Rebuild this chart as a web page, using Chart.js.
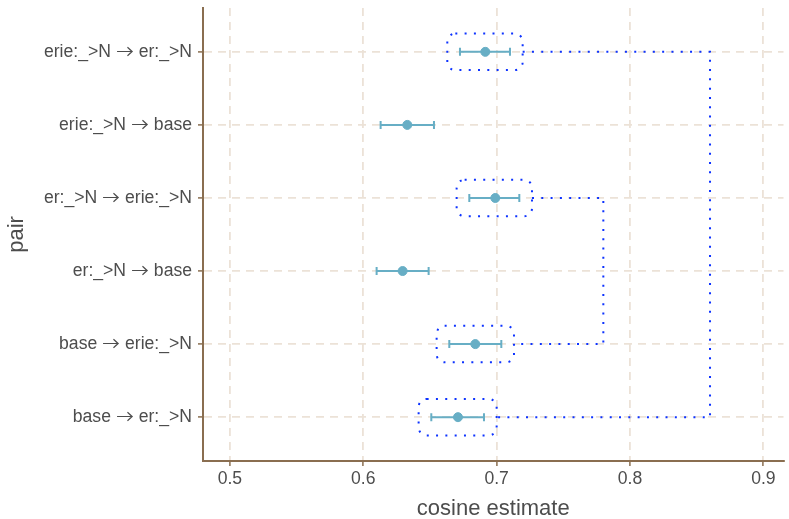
<!DOCTYPE html>
<html>
<head>
<meta charset="utf-8">
<script src="https://cdn.jsdelivr.net/npm/chart.js@4.4.1/dist/chart.umd.min.js"></script>
<style>
/* arrows taken from Lato, everything else from Liberation Sans */
@font-face {
    font-family: 'ArrowGlyphs';
    src: local('Lato'), local('Lato Regular'), local('Lato-Regular');
    unicode-range: U+2190-21FF;
}
html, body { margin: 0; padding: 0; background: #fff; }
#wrap { width: 789px; height: 519px; position: relative; }
</style>
</head>
<body>
<div id="wrap"><canvas id="myChart"></canvas></div>
<script>
// pairs, listed bottom to top
const pairs = ['base → er:_>N', 'base → erie:_>N', 'er:_>N → base', 'er:_>N → erie:_>N', 'erie:_>N → base', 'erie:_>N → er:_>N'];
const estimates = [0.671, 0.684, 0.6295, 0.699, 0.633, 0.6915];
const lower = [0.651, 0.6645, 0.610, 0.6795, 0.613, 0.6725];
const upper = [0.6905, 0.7035, 0.649, 0.717, 0.653, 0.710];
const xTicks = [0.5, 0.6, 0.7, 0.8, 0.9];

// rows wrapped in dotted boxes, and the rows joined by brackets
const boxedRows = [0, 1, 3, 5];
const bracketFrom = [5, 3];
const bracketTo = [0, 1];
const bracketX = [0.86, 0.78];

const pointColor = '#67aec5';
const axisColor = '#8a6e50';
const gridColor = '#ece2d7';
const textColor = '#4d4d4d';
const boxColor = '#0d33ff';
const boxPadX = 0.0095;
const boxPadY = 0.25;

Chart.defaults.font.family = 'ArrowGlyphs, "Liberation Sans", Arial, sans-serif';

const errorBars = {
    id: 'errorBars',
    beforeDatasetsDraw(chart){
        const {ctx, scales: {x, y}} = chart;
        ctx.save();
        ctx.strokeStyle = pointColor;
        ctx.lineWidth = 2;
        estimates.forEach((_, i) => {
            const py = y.getPixelForValue(i);
            const x0 = x.getPixelForValue(lower[i]);
            const x1 = x.getPixelForValue(upper[i]);
            ctx.beginPath();
            ctx.moveTo(x0, py); ctx.lineTo(x1, py);
            ctx.moveTo(x0, py - 4); ctx.lineTo(x0, py + 4);
            ctx.moveTo(x1, py - 4); ctx.lineTo(x1, py + 4);
            ctx.stroke();
        });
        ctx.restore();
    }
};

const groupMarks = {
    id: 'groupMarks',
    afterDatasetsDraw(chart){
        const {ctx, scales: {x, y}} = chart;
        ctx.save();
        ctx.strokeStyle = boxColor;
        ctx.lineWidth = 2;
        ctx.setLineDash([2, 7.3]);

        boxedRows.forEach(i => {
            const left = x.getPixelForValue(lower[i] - boxPadX);
            const right = x.getPixelForValue(upper[i] + boxPadX);
            const top = y.getPixelForValue(i + boxPadY);
            const bottom = y.getPixelForValue(i - boxPadY);
            ctx.beginPath();
            ctx.roundRect(left, top, right - left, bottom - top, 8);
            ctx.stroke();
        });

        bracketFrom.forEach((from, k) => {
            const to = bracketTo[k];
            const bx = x.getPixelForValue(bracketX[k]);
            ctx.beginPath();
            ctx.moveTo(x.getPixelForValue(upper[from] + boxPadX), y.getPixelForValue(from));
            ctx.lineTo(bx, y.getPixelForValue(from));
            ctx.lineTo(bx, y.getPixelForValue(to));
            ctx.lineTo(x.getPixelForValue(upper[to] + boxPadX), y.getPixelForValue(to));
            ctx.stroke();
        });
        ctx.restore();
    }
};

async function createChart(){
    try {
        await document.fonts.load('17.6px ArrowGlyphs', '→');
    } catch (e) {}

    const ctx = document.getElementById('myChart').getContext('2d');
    new Chart(ctx, {
        type: 'scatter',
        data: {
            datasets: [{
                data: estimates.map((v, i) => ({x: v, y: i})),
                backgroundColor: pointColor,
                borderColor: pointColor,
                pointRadius: 4.5,
                pointHoverRadius: 4.5
            }]
        },
        options: {
            responsive: true,
            maintainAspectRatio: false,
            devicePixelRatio: 1,
            animation: false,
            layout: { padding: { top: 8, right: 4, left: 0, bottom: 0 } },
            plugins: { legend: { display: false }, tooltip: { enabled: false } },
            scales: {
                x: {
                    type: 'linear',
                    min: 0.47981,
                    max: 0.9151,
                    afterBuildTicks: s => { s.ticks = xTicks.map(v => ({value: v})); },
                    afterFit: s => { s.height = 58; s.paddingLeft = 0; s.paddingRight = 0; },
                    ticks: {
                        color: textColor,
                        font: { size: 17.6 },
                        padding: 3,
                        maxRotation: 0,
                        callback: v => v.toFixed(1)
                    },
                    grid: {
                        color: gridColor,
                        lineWidth: 1.8,
                        tickColor: axisColor,
                        tickLength: 5,
                        tickWidth: 1.5
                    },
                    border: { color: axisColor, width: 2, dash: [8, 6] },
                    title: {
                        display: true,
                        text: 'cosine estimate',
                        color: textColor,
                        font: { size: 22, lineHeight: 0.9 },
                        padding: { top: 0, bottom: 0 }
                    }
                },
                y: {
                    type: 'linear',
                    min: -0.6,
                    max: 5.6,
                    afterBuildTicks: s => { s.ticks = pairs.map((_, i) => ({value: i})); },
                    afterFit: s => { s.width = 203; s.paddingTop = 0; s.paddingBottom = 0; },
                    ticks: {
                        color: textColor,
                        font: { size: 17.6 },
                        padding: 6,
                        callback: v => pairs[v]
                    },
                    grid: {
                        color: gridColor,
                        lineWidth: 1.8,
                        tickColor: axisColor,
                        tickLength: 5,
                        tickWidth: 1.5
                    },
                    border: { color: axisColor, width: 2, dash: [8, 6] },
                    title: {
                        display: true,
                        text: 'pair',
                        color: textColor,
                        font: { size: 22, lineHeight: 0.9 },
                        padding: { top: 7, bottom: 0 }
                    }
                }
            }
        },
        plugins: [errorBars, groupMarks]
    });
}

createChart();
</script>
</body>
</html>
